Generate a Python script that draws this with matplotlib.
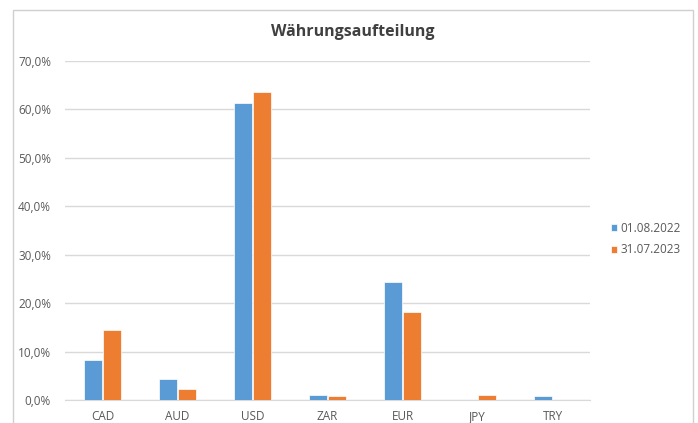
import numpy as np
import matplotlib
matplotlib.use("Agg")
from matplotlib import pyplot as plt
from matplotlib.patches import Rectangle

categories = ["CAD", "AUD", "USD", "ZAR", "EUR", "JPY", "TRY"]
share_2022 = [8.3, 4.3, 61.4, 1.1, 24.3, 0.0, 0.8]
share_2023 = [14.5, 2.2, 63.5, 0.8, 18.2, 1.0, 0.0]
series_labels = ["01.08.2022", "31.07.2023"]
y_ticks = [0, 10, 20, 30, 40, 50, 60, 70]

blue = "#5B9BD5"
orange = "#ED7D31"
text_color = "#595959"
grid_color = "#D9D9D9"

plt.rcParams["font.family"] = ["Open Sans", "DejaVu Sans"]

fig = plt.figure(figsize=(6.98, 4.23), dpi=100)
W, H = 698, 423
ax = fig.add_axes([65 / W, 23 / H, (590 - 65) / W, (400 - 61) / H])

# Outer chart border
fig.patches.append(
    Rectangle((13 / W, -0.05), (693 - 13) / W, (413 + 0.05 * H) / H,
              transform=fig.transFigure, fill=False, edgecolor="#D0D0D0",
              linewidth=1.0)
)

x = np.arange(len(categories))
width = 0.235
ax.bar(x - 0.13, share_2022, width, color=blue, edgecolor="white",
       linewidth=0.5, label=series_labels[0], zorder=3)
ax.bar(x + 0.13, share_2023, width, color=orange, edgecolor="white",
       linewidth=0.5, label=series_labels[1], zorder=3)

ax.set_xlim(-0.5, len(categories) - 0.5)
ax.set_ylim(0, 70)
ax.set_yticks(y_ticks)
ax.set_yticklabels([f"{v:.1f}".replace(".", ",") + "%" for v in y_ticks])
ax.set_xticks(x)
ax.set_xticklabels(categories)
ax.yaxis.grid(True, color=grid_color, linewidth=1.0, zorder=0)
ax.tick_params(axis="both", length=0, colors=text_color, labelsize=8.5)
ax.tick_params(axis="y", pad=10)
ax.tick_params(axis="x", pad=7)
for side in ["top", "right", "left"]:
    ax.spines[side].set_visible(False)
ax.spines["bottom"].set_color(grid_color)

fig.text(353 / W, 1 - 32 / H, "Währungsaufteilung", ha="center", va="center",
         fontsize=11.5, fontweight="bold", color="#404040")

ax.legend(loc="center left", bbox_to_anchor=(600 / W, 1 - 239 / H),
          bbox_transform=fig.transFigure, frameon=False, fontsize=8.5,
          labelcolor=text_color, handlelength=0.55, handleheight=0.55,
          handletextpad=0.25, labelspacing=0.75)

plt.savefig("out.png", dpi=100)
plt.close()
